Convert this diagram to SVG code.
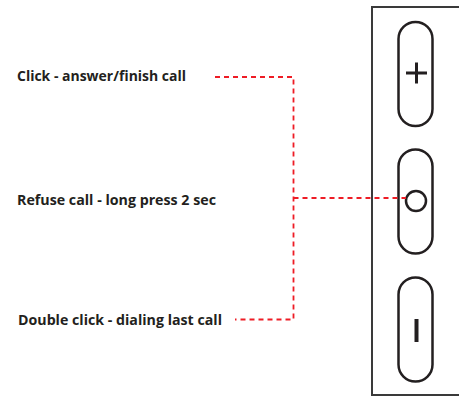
<svg xmlns="http://www.w3.org/2000/svg" width="459" height="396" viewBox="0 0 459 396">
<style>
.lbl{font-family:"Open Sans","Liberation Sans",Arial,sans-serif;font-weight:bold;font-size:14px;fill:#231f20}
.btn{fill:none;stroke:#231f20;stroke-width:2.5}
.lead{fill:none;stroke:#ee1c25;stroke-width:1.8;stroke-dasharray:5 4}
</style>
<rect width="459" height="396" fill="#ffffff"/>
<g id="device">
<path d="M470 7 H372 V395 H470" fill="none" stroke="#3a3a3a" stroke-width="2"/>
</g>
<g id="btn-plus">
<rect class="btn" x="398.5" y="22" width="34" height="104" rx="17"/>
<path d="M406 73 H427 M416.5 62.5 V83.5" stroke="#231f20" stroke-width="3" fill="none"/>
</g>
<g id="btn-call">
<rect class="btn" x="398.5" y="149.5" width="34" height="104" rx="17"/>
<circle cx="416" cy="201" r="10" fill="none" stroke="#231f20" stroke-width="2.5"/>
</g>
<g id="btn-minus">
<rect class="btn" x="398.5" y="277.5" width="34" height="104" rx="17"/>
<path d="M416.5 319 V342" stroke="#231f20" stroke-width="4" fill="none"/>
</g>
<g id="labels">
<text class="lbl" x="17" y="80.5" textLength="169" lengthAdjust="spacingAndGlyphs">Click - answer/finish call</text>
<text class="lbl" x="17" y="204.5" textLength="199" lengthAdjust="spacingAndGlyphs">Refuse call - long press 2 sec</text>
<text class="lbl" x="18" y="324.5" textLength="204" lengthAdjust="spacingAndGlyphs">Double click - dialing last call</text>
</g>
<g id="connectors">
<path class="lead" d="M215 77 H293.5 V319.5 H235"/>
<path class="lead" d="M293.5 198 H406"/>
</g>
</svg>
